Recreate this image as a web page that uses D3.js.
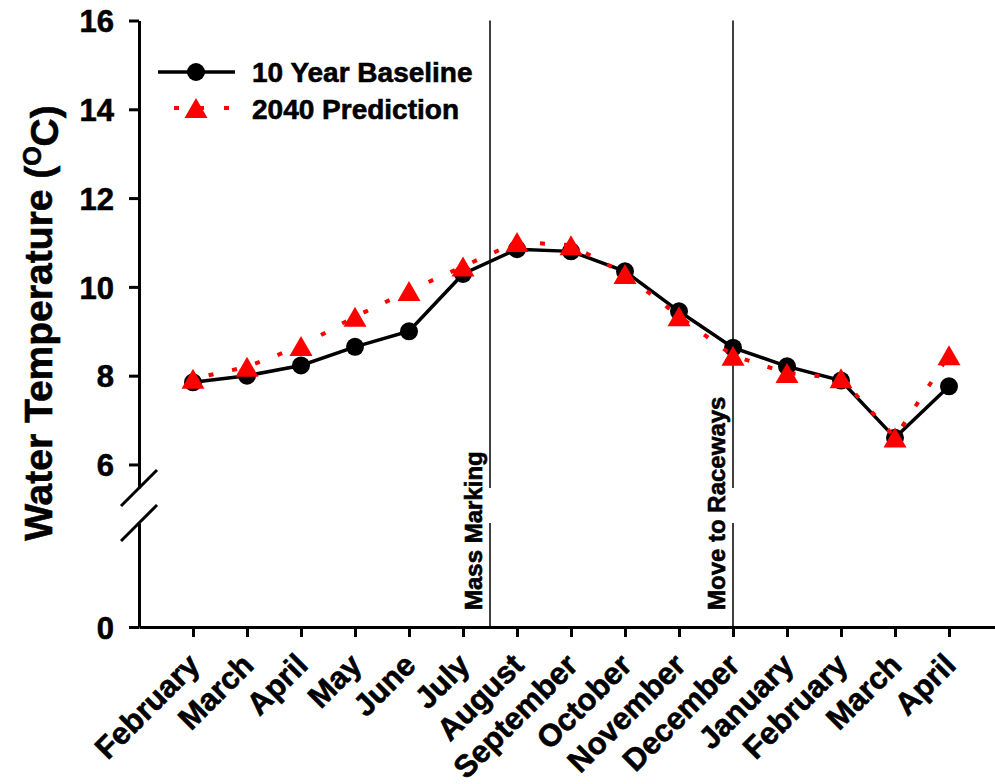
<!DOCTYPE html>
<html>
<head>
<meta charset="utf-8">
<script src="https://cdn.jsdelivr.net/npm/d3@7"></script>
<style>
  body { margin: 0; background: #fff; }
  svg { display: block; font-family: "Liberation Sans", Arial, sans-serif; }
  svg text { stroke: #000; stroke-width: 0.6px; }
</style>
</head>
<body>
<div id="chart"></div>
<script>
// Data
const months = ["February", "March", "April", "May", "June", "July", "August",
  "September", "October", "November", "December", "January", "February", "March", "April"];
const baseline = [7.85, 8.00, 8.23, 8.65, 9.00, 10.29, 10.85, 10.80, 10.35, 9.45, 8.63, 8.21, 7.89, 6.60, 7.76];
const prediction = [7.93, 8.20, 8.67, 9.33, 9.91, 10.46, 11.01, 10.94, 10.29, 9.34, 8.45, 8.06, 7.94, 6.61, 8.46];
const upperTicks = [6, 8, 10, 12, 14, 16];
const lowerTicks = [0];
const events = [
  { label: "Mass Marking", at: 5.5 },
  { label: "Move to Raceways", at: 10 }
];
const seriesNames = ["10 Year Baseline", "2040 Prediction"];

const W = 995, H = 784;
const axisX = 139, axisY = 627;
const breakTop = 488, breakBottom = 523;

const svg = d3.select("#chart").append("svg")
  .attr("width", W)
  .attr("height", H);

// Scales: x is a point scale over the month index, y is split by the axis break
const x = d3.scalePoint().domain(d3.range(months.length)).range([axisX, 1003]).padding(1);
const yTop = d3.scaleLinear().domain([5.47, 16]).range([breakTop, 20.5]);
const yLow = d3.scaleLinear().domain([0, 2.3]).range([axisY, breakBottom]);
const xAt = i => x(Math.floor(i)) + (i % 1) * x.step();

// Y axis, upper part
const yAxisTop = svg.append("g")
  .attr("transform", `translate(${axisX},0)`)
  .call(d3.axisLeft(yTop).tickValues(upperTicks).tickSize(10).tickSizeOuter(0).tickPadding(15));

// Y axis, lower part
const yAxisLow = svg.append("g")
  .attr("transform", `translate(${axisX},0)`)
  .call(d3.axisLeft(yLow).tickValues(lowerTicks).tickFormat(d3.format("d"))
    .tickSize(10).tickSizeOuter(0).tickPadding(15));

// X axis
const xAxis = svg.append("g")
  .attr("transform", `translate(0,${axisY})`)
  .call(d3.axisBottom(x).tickSize(10).tickSizeOuter(0).tickFormat(i => months[i]));

[yAxisTop, yAxisLow, xAxis].forEach(g => {
  g.selectAll("path, line").attr("stroke", "#000").attr("stroke-width", 3);
  g.selectAll("text").attr("fill", "#000").style("font-weight", "bold");
});
[yAxisTop, yAxisLow].forEach(g => g.selectAll("text").style("font-size", "31px").attr("dy", "0.36em"));

xAxis.selectAll("text")
  .style("font-size", "31px")
  .attr("text-anchor", "end")
  .attr("y", 0)
  .attr("dy", 0)
  .attr("transform", "translate(8,40) rotate(-45)");

// Axis break marks
[breakTop, breakBottom].forEach(yb => {
  svg.append("line")
    .attr("x1", axisX - 18).attr("y1", yb + 18)
    .attr("x2", axisX + 18).attr("y2", yb - 18)
    .attr("stroke", "#000")
    .attr("stroke-width", 3);
});

// Y title
const yTitle = svg.append("text")
  .attr("transform", "translate(52,323) rotate(-90)")
  .attr("text-anchor", "middle")
  .style("font-size", "39px")
  .style("font-weight", "bold")
  .text("Water Temperature (");
yTitle.append("tspan").attr("dy", "-0.45em").style("font-size", "25px").text("O");
yTitle.append("tspan").attr("dy", "0.45em").text("C)");

// Event lines with labels
events.forEach(e => {
  const ex = xAt(e.at);
  svg.append("line")
    .attr("x1", ex).attr("x2", ex)
    .attr("y1", yTop(16)).attr("y2", breakTop)
    .attr("stroke", "#000").attr("stroke-width", 1.5);
  svg.append("line")
    .attr("x1", ex).attr("x2", ex)
    .attr("y1", breakBottom).attr("y2", axisY)
    .attr("stroke", "#000").attr("stroke-width", 1.5);
  svg.append("text")
    .attr("transform", `translate(${ex - 8},610) rotate(-90)`)
    .style("font-size", "24px")
    .style("font-weight", "bold")
    .text(e.label);
});

// Lines
const line = d3.line()
  .x((d, i) => x(i))
  .y(d => yTop(d));

const triangle = "M0,-10L11.5,10L-11.5,10Z";

svg.append("path")
  .datum(baseline)
  .attr("fill", "none")
  .attr("stroke", "#000")
  .attr("stroke-width", 3.5)
  .attr("d", line);

svg.selectAll(".base-dot")
  .data(baseline)
  .join("circle")
    .attr("class", "base-dot")
    .attr("cx", (d, i) => x(i))
    .attr("cy", d => yTop(d))
    .attr("r", 9)
    .attr("fill", "#000");

svg.append("path")
  .datum(prediction)
  .attr("fill", "none")
  .attr("stroke", "#ff0000")
  .attr("stroke-width", 4)
  .attr("stroke-dasharray", "5,19")
  .attr("stroke-dashoffset", 8)
  .attr("d", line);

svg.selectAll(".pred-tri")
  .data(prediction)
  .join("path")
    .attr("class", "pred-tri")
    .attr("d", triangle)
    .attr("transform", (d, i) => `translate(${x(i)},${yTop(d)})`)
    .attr("fill", "#ff0000");

// Legend
const legend = svg.append("g");
legend.append("line")
  .attr("x1", 158).attr("x2", 235).attr("y1", 72).attr("y2", 72)
  .attr("stroke", "#000").attr("stroke-width", 3.5);
legend.append("circle").attr("cx", 196).attr("cy", 72).attr("r", 9).attr("fill", "#000");
legend.append("line")
  .attr("x1", 174).attr("x2", 230).attr("y1", 108).attr("y2", 108)
  .attr("stroke", "#ff0000").attr("stroke-width", 4)
  .attr("stroke-dasharray", "5,20");
legend.append("path").attr("d", triangle).attr("transform", "translate(196,108)").attr("fill", "#ff0000");
legend.selectAll(".legend-label")
  .data(seriesNames)
  .join("text")
    .attr("class", "legend-label")
    .attr("x", 252)
    .attr("y", (d, i) => 82 + i * 36.5)
    .style("font-size", "28px")
    .style("font-weight", "bold")
    .text(d => d);
</script>
</body>
</html>
